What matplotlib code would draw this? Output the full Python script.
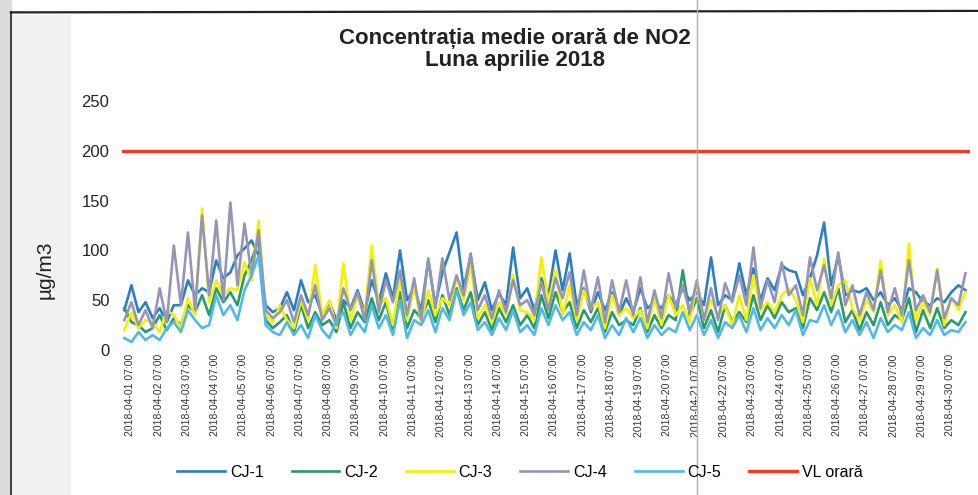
"""Concentratia medie orara de NO2 - aprilie 2018"""

import numpy as np
import matplotlib
matplotlib.use("Agg")
import matplotlib.pyplot as plt
from matplotlib.lines import Line2D
from matplotlib.patches import Rectangle

plt.rcParams["font.family"] = ["Liberation Sans", "DejaVu Sans"]

# values, 4 samples per day (02, 08, 14, 20 h)
SAMPLE_STEP_H = 6
SAMPLE_OFFSET_H = 2
HOURS = 720
VL_ORARA = 200

cj1 = [40, 65, 38, 48,  32, 42, 28, 45,  45, 70, 55, 62,  58, 90, 72, 78,  95, 102, 110, 95,
       45, 38, 42, 58,  40, 70, 48, 55,  35, 48, 30, 50,  42, 60, 38, 70,  48, 77, 52, 100,
       50, 62, 40, 90,  45, 78, 98, 118,  62, 95, 50, 68,  40, 57, 45, 103,  52, 62, 40, 72,
       55, 100, 60, 97,  45, 62, 38, 58,  40, 58, 35, 52,  38, 62, 42, 48,  42, 55, 45, 62,
       50, 58, 45, 93,  45, 55, 50, 87,  55, 82, 50, 72,  60, 85, 80, 78,  55, 72, 95, 128,
       65, 95, 55, 60,  58, 62, 50, 58,  45, 52, 40, 62,  58, 48, 45, 52,  48, 58, 65, 60]
cj2 = [42, 28, 25, 18,  22, 35, 20, 32,  25, 45, 38, 55,  35, 62, 48, 58,  45, 75, 90, 112,
       30, 22, 28, 35,  18, 45, 22, 38,  25, 30, 18, 48,  22, 38, 28, 52,  30, 48, 20, 58,
       22, 40, 32, 50,  28, 55, 35, 62,  40, 58, 25, 38,  20, 42, 28, 45,  25, 35, 22, 55,
       32, 58, 38, 48,  22, 40, 28, 42,  18, 38, 25, 30,  25, 42, 18, 35,  22, 35, 30, 80,
       35, 52, 22, 40,  18, 45, 28, 38,  28, 55, 30, 45,  32, 48, 38, 42,  22, 52, 40, 58,
       38, 62, 28, 40,  20, 38, 25, 48,  25, 35, 30, 52,  18, 40, 22, 42,  22, 30, 25, 38]
cj3 = [20, 38, 22, 30,  28, 18, 40, 35,  22, 52, 35, 142,  48, 70, 55, 62,  60, 88, 70, 130,
       35, 28, 45, 30,  22, 50, 30, 85,  35, 50, 22, 87,  30, 55, 35, 105,  45, 52, 25, 72,
       30, 65, 28, 60,  35, 52, 45, 72,  50, 85, 32, 45,  28, 48, 35, 75,  40, 38, 30, 93,
       48, 80, 35, 65,  30, 60, 42, 48,  22, 55, 35, 42,  32, 40, 22, 52,  25, 55, 35, 45,
       28, 68, 30, 50,  35, 45, 25, 55,  30, 75, 40, 48,  38, 55, 62, 50,  28, 72, 45, 92,
       45, 65, 70, 42,  30, 50, 38, 90,  35, 45, 28, 107,  30, 48, 35, 82,  25, 52, 40, 58]
cj4 = [30, 48, 25, 40,  22, 62, 28, 105,  45, 118, 40, 135,  55, 130, 50, 148,  65, 127, 75, 120,
       40, 32, 38, 50,  28, 55, 35, 65,  30, 42, 25, 62,  40, 58, 30, 90,  38, 70, 48, 80,
       35, 72, 30, 92,  42, 92, 50, 75,  55, 97, 40, 55,  32, 60, 38, 70,  45, 50, 35, 68,
       40, 72, 52, 78,  35, 80, 40, 73,  28, 70, 38, 70,  35, 73, 28, 60,  32, 77, 42, 65,
       38, 70, 30, 62,  30, 67, 48, 75,  45, 103, 42, 70,  48, 88, 55, 65,  35, 93, 60, 85,
       52, 98, 45, 65,  35, 58, 40, 80,  38, 62, 35, 90,  40, 55, 38, 80,  32, 52, 45, 77]
cj5 = [12, 8, 18, 10,  15, 10, 22, 28,  18, 40, 30, 22,  25, 55, 35, 45,  30, 60, 75, 95,
       25, 18, 15, 28,  15, 25, 12, 35,  20, 12, 30, 38,  15, 28, 18, 45,  22, 35, 15, 50,
       12, 30, 25, 40,  18, 42, 30, 60,  35, 48, 20, 28,  15, 32, 20, 40,  18, 25, 15, 42,
       25, 45, 30, 38,  15, 28, 20, 35,  12, 25, 15, 32,  18, 32, 12, 25,  15, 22, 18, 38,
       20, 35, 15, 30,  12, 28, 22, 35,  18, 42, 20, 32,  22, 35, 25, 40,  15, 30, 28, 45,
       25, 40, 18, 30,  15, 28, 12, 32,  18, 25, 20, 38,  12, 22, 15, 30,  15, 20, 18, 28]

SERIES = [("CJ-1", cj1, "#2a7fc4"),
          ("CJ-2", cj2, "#2b9a6a"),
          ("CJ-3", cj3, "#f2f200"),
          ("CJ-4", cj4, "#9595b8"),
          ("CJ-5", cj5, "#52b8e6")]
VL_COLOR = "#f03a24"

days = list(range(1, 31))
tick_labels = [f"2018-04-{d:02d} 07:00" for d in days]


def plot_chart():
    """Draw the whole figure"""
    fig = plt.figure(figsize=(9.79, 4.95), dpi=100)
    # scan artefacts: grey strip on the left, outer frame, scanner line
    fig.patches.append(Rectangle((0, 0), 0.011, 1, transform=fig.transFigure,
                                 color="#dcdcdc", zorder=0))
    fig.patches.append(Rectangle((0.011, 0), 0.06, 0.97, transform=fig.transFigure,
                                 color="#f1f1f1", zorder=0))
    fig.add_artist(Line2D([0.011, 1], [0.975, 0.978], transform=fig.transFigure,
                          color="#222222", lw=1.6))
    fig.add_artist(Line2D([0.011, 0.011], [0, 0.975], transform=fig.transFigure,
                          color="#222222", lw=1.2))
    fig.add_artist(Line2D([0.712, 0.712], [0, 1], transform=fig.transFigure,
                          color="#b0b0b0", lw=1.0))

    ax = fig.add_axes([0.1246, 0.2929, 0.8664, 0.5031])
    ax.patch.set_alpha(0)
    for name, values, color in SERIES:
        x = np.arange(len(values)) * SAMPLE_STEP_H + SAMPLE_OFFSET_H
        ax.plot(x, values, color=color, lw=1.9, label=name)
    ax.plot([0, HOURS], [VL_ORARA, VL_ORARA], color=VL_COLOR, lw=2.4, label="VL orară")

    ax.set_xlim(0, HOURS)
    ax.set_ylim(0, 250)
    ax.set_yticks(range(0, 251, 50))
    ax.set_xticks([24 * (d - 1) + 7 for d in days])
    ax.set_xticklabels(tick_labels, rotation=90, fontsize=7.5, color="#333333")
    ax.tick_params(axis="y", length=0, labelsize=12, pad=9, labelcolor="#222222")
    ax.tick_params(axis="x", length=0, pad=3)
    for s in ax.spines.values():
        s.set_visible(False)

    fig.text(0.526, 0.922, "Concentrația medie orară de NO2", ha="center", va="center",
             fontsize=16, fontweight="bold", color="#222222")
    fig.text(0.526, 0.878, "Luna aprilie 2018", ha="center", va="center",
             fontsize=16, fontweight="bold", color="#222222")
    fig.text(0.046, 0.455, "µg/m3", rotation=90, ha="center", va="center",
             fontsize=15, color="#222222")

    fig.legend(loc="center", bbox_to_anchor=(0.531, 0.046), ncol=6, frameon=False,
               fontsize=11.5, handlelength=3.0, columnspacing=1.75, handletextpad=0.3)
    return fig


fig = plot_chart()
fig.savefig("out.png", dpi=100)
plt.close(fig)
